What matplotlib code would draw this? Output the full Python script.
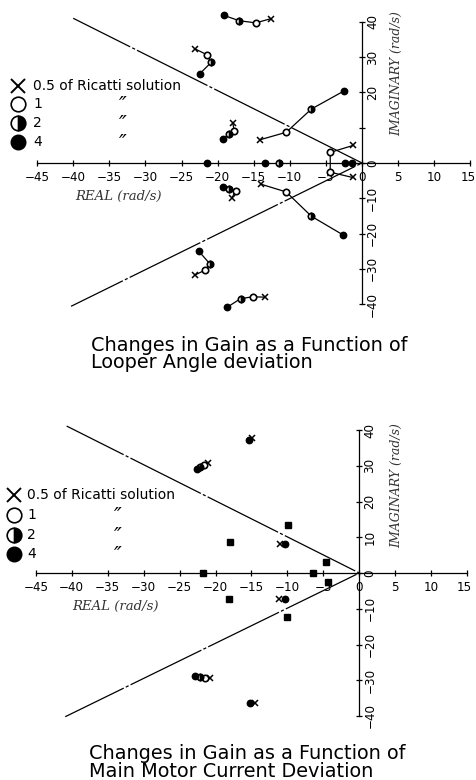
import matplotlib
matplotlib.use("Agg")
import matplotlib.pyplot as plt
from matplotlib.lines import Line2D
from matplotlib.transforms import ScaledTranslation

W, H = 476, 780

# gain multipliers of the Ricatti solution shown in the legend
gains = [0.5, 1, 2, 4]
gain_labels = ["0.5 of Ricatti solution", "1", "2", "4"]

# --- looper angle deviation: loci, each branch ordered by increasing gain
looper_re = [
    [-12.6, -14.7, -17.0, -19.1],
    [-23.1, -21.5, -20.9, -22.5],
    [-17.9, -17.7, -18.4, -19.2],
    [-14.1, -10.5, -7.0, -2.5],
    [-1.2, -4.4, -4.4, -1.3],
    [-18.0, -17.5, -18.4, -19.2],
    [-14.0, -10.5, -7.0, -2.6],
    [-23.1, -21.7, -21.1, -22.6],
    [-13.5, -15.1, -16.8, -18.7],
]
looper_im = [
    [40.9, 39.7, 40.3, 41.8],
    [32.3, 30.7, 28.5, 25.2],
    [11.3, 9.2, 8.2, 6.9],
    [6.6, 8.7, 15.3, 20.4],
    [5.0, 3.0, -2.6, -4.1],
    [-9.8, -7.9, -7.3, -6.8],
    [-6.0, -8.2, -15.1, -20.4],
    [-31.7, -30.3, -28.5, -25.0],
    [-38.0, -37.9, -38.4, -40.9],
]
looper_gain = [
    [0.5, 1, 2, 4],
    [0.5, 1, 2, 4],
    [0.5, 1, 2, 4],
    [0.5, 1, 2, 4],
    [0.5, 1, 1, 0.5],
    [0.5, 1, 2, 4],
    [0.5, 1, 2, 4],
    [0.5, 1, 2, 4],
    [0.5, 1, 2, 4],
]
# real poles
looper_real_re = [-21.4, -13.5, -11.5, -2.3, -1.4]
looper_real_gain = [4, 4, 2, 4, 4]

# --- main motor current deviation
motor_re = [
    [-14.9, -15.3],
    [-21.0, -21.6, -22.1, -22.6],
    [-11.0, -10.3],
    [-11.1, -10.3],
    [-20.8, -21.5, -22.2, -22.9],
    [-14.5, -15.2],
]
motor_im = [
    [37.7, 37.2],
    [30.9, 30.2, 29.7, 29.0],
    [8.1, 8.0],
    [-7.3, -7.4],
    [-29.5, -29.4, -29.2, -28.8],
    [-36.3, -36.3],
]
motor_gain = [
    [0.5, 4],
    [0.5, 1, 2, 4],
    [0.5, 4],
    [0.5, 4],
    [0.5, 1, 2, 4],
    [0.5, 4],
]
# poles that hardly move (all gains on top of each other)
motor_fixed_re = [-9.9, -18.0, -4.7, -21.8, -6.5, -4.4, -18.1, -10.0]
motor_fixed_im = [13.3, 8.7, 3.2, 0.0, 0.0, -2.4, -7.3, -12.2]

# damping boundary lines
looper_zeta_re = [-40.0, 0.0, -40.3]
looper_zeta_im = [41.0, 0.0, -40.6]
motor_zeta_re = [-40.7, 0.0, -40.9]
motor_zeta_im = [41.1, 0.0, -40.2]

x_ticks = list(range(-45, 16, 5))
y_ticks = list(range(-40, 41, 10))


def marker_style(g, size):
    if g == 0.5:
        return dict(marker="x", markersize=size, markeredgewidth=1.1,
                    color="black")
    if g == 1:
        return dict(marker="o", markersize=size, markerfacecolor="white",
                    markeredgecolor="black", markeredgewidth=1.2)
    if g == 2:
        return dict(marker="o", markersize=size, fillstyle="right",
                    markerfacecolor="black", markerfacecoloralt="white",
                    markeredgecolor="black", markeredgewidth=1.2)
    return dict(marker="o", markersize=size, markerfacecolor="black",
                markeredgecolor="black")


def place(ax, top_px, bot_px, x_zero, x_unit, y_zero, y_unit):
    ax.set_position([0, 1 - bot_px / H, 1, (bot_px - top_px) / H])
    ax.set_xlim(-x_zero / x_unit, (W - x_zero) / x_unit)
    ax.set_ylim(-(bot_px - y_zero) / y_unit, (y_zero - top_px) / y_unit)


def draw_axes(ax, hide_10=False):
    ax.patch.set_visible(False)
    ax.spines["top"].set_visible(False)
    ax.spines["left"].set_visible(False)
    ax.spines["bottom"].set_position(("data", 0))
    ax.spines["right"].set_position(("data", 0))
    ax.spines["bottom"].set_bounds(-45, 15)
    ax.spines["right"].set_bounds(-40, 40)
    for s in ("bottom", "right"):
        ax.spines[s].set_linewidth(0.9)
    ax.yaxis.tick_right()
    ax.set_xticks(x_ticks)
    ax.set_xticklabels([str(t).replace("-", "\u2212") for t in x_ticks])
    ax.set_yticks(y_ticks)
    ylabels = [str(t).replace("-", "\u2212") for t in y_ticks]
    if hide_10:
        ylabels[y_ticks.index(10)] = ""
    ax.set_yticklabels(ylabels)
    ax.tick_params(axis="both", direction="inout", length=5, width=0.9,
                   labelsize=8.6)
    ax.tick_params(axis="x", pad=3.5)
    ax.tick_params(axis="y", pad=0.5, labelrotation=90)
    for lab in ax.get_yticklabels():
        lab.set_va("center")
    # last x label sits at the right edge, nudge it in a little
    last = ax.get_xticklabels()[-1]
    last.set_transform(last.get_transform()
                       + ScaledTranslation(-2.5 / 100, 0, fig.dpi_scale_trans))


def draw_zeta(ax, re, im):
    ax.plot(re, im, color="black", linewidth=0.9,
            linestyle=(12, (63, 1.8, 2.5, 1.8)))


def draw_legend(fig, x_mark, x_text, x_ditto, rows_y):
    for g, lab, y in zip(gains, gain_labels, rows_y):
        st = marker_style(g, 10.5)
        if g == 0.5:
            st["markersize"] = 9.5
            st["markeredgewidth"] = 1.4
        fig.add_artist(Line2D([x_mark / W], [1 - y / H],
                              transform=fig.transFigure, linestyle="none", **st))
        fig.text(x_text / W, 1 - y / H, lab, fontsize=10, va="center",
                 ha="left")
        if g != 0.5:
            fig.text(x_ditto / W, 1 - (y + 2) / H, "\u2033", fontsize=15,
                     va="center", ha="center", style="italic")


fig = plt.figure(figsize=(W / 100, H / 100), dpi=100)

# ---------------- top panel: looper angle
ax1 = fig.add_axes([0, 0.5, 1, 0.5])
place(ax1, 0, 335, 362, 7.22, 163, 3.53)
draw_axes(ax1, hide_10=True)
draw_zeta(ax1, looper_zeta_re, looper_zeta_im)
for re, im, gs in zip(looper_re, looper_im, looper_gain):
    ax1.plot(re, im, color="black", linewidth=0.9, zorder=2)
    for x, y, g in zip(re, im, gs):
        ax1.plot([x], [y], linestyle="none", zorder=3, **marker_style(g, 4.6))
for x, g in zip(looper_real_re, looper_real_gain):
    ax1.plot([x], [0], linestyle="none", zorder=3, **marker_style(g, 4.6))

fig.text(118 / W, 1 - 196 / H, "REAL (rad/s)", family="DejaVu Serif",
         style="italic", fontsize=9.5, ha="center", va="center",
         color="#333333")
fig.text(397 / W, 1 - 74 / H, "IMAGINARY (rad/s)", family="DejaVu Serif",
         style="italic", fontsize=9, ha="center", va="center", rotation=90,
         color="#333333")
draw_legend(fig, 17.5, 33, 123, [85.7, 104, 123.3, 141.7])
fig.text(91 / W, 1 - 350.7 / H, "Changes in Gain as a Function of",
         fontsize=13.9, va="baseline", ha="left")
fig.text(91 / W, 1 - 368.3 / H, "Looper Angle deviation",
         fontsize=13.9, va="baseline", ha="left")

# ---------------- bottom panel: main motor current
ax2 = fig.add_axes([0, 0, 1, 0.5])
place(ax2, 405, 740, 359.3, 7.19, 573, 3.575)
draw_axes(ax2)
draw_zeta(ax2, motor_zeta_re, motor_zeta_im)
for re, im, gs in zip(motor_re, motor_im, motor_gain):
    for x, y, g in zip(re, im, gs):
        ax2.plot([x], [y], linestyle="none", zorder=3, **marker_style(g, 4.6))
ax2.plot(motor_fixed_re, motor_fixed_im, linestyle="none", marker="s",
         markersize=4.6, color="black", zorder=3)

fig.text(115 / W, 1 - 606 / H, "REAL (rad/s)", family="DejaVu Serif",
         style="italic", fontsize=9.5, ha="center", va="center",
         color="#333333")
fig.text(397 / W, 1 - 486 / H, "IMAGINARY (rad/s)", family="DejaVu Serif",
         style="italic", fontsize=9, ha="center", va="center", rotation=90,
         color="#333333")
draw_legend(fig, 14, 27, 118, [495, 515, 535, 554])
fig.text(89 / W, 1 - 759.3 / H, "Changes in Gain as a Function of",
         fontsize=13.9, va="baseline", ha="left")
fig.text(89 / W, 1 - 777 / H, "Main Motor Current Deviation",
         fontsize=13.9, va="baseline", ha="left")

fig.savefig("out.png", dpi=100)
